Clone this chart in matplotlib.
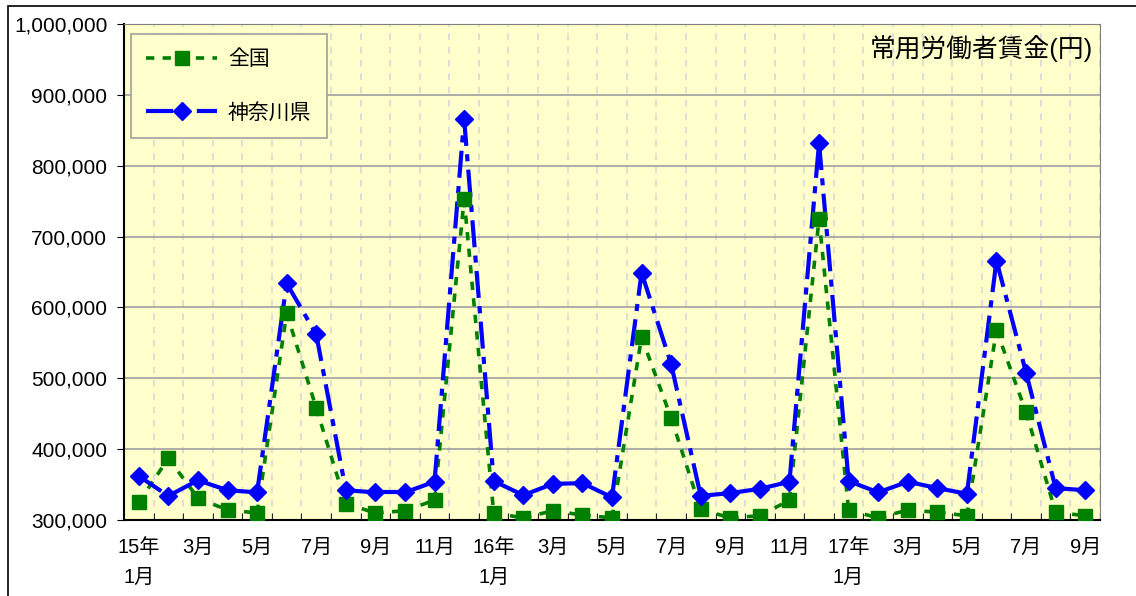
import matplotlib
matplotlib.use("Agg")
import matplotlib.pyplot as plt
import matplotlib.patches as patches
from matplotlib.ticker import FuncFormatter, FixedLocator
import numpy as np

plt.rcParams['font.family'] = ['Liberation Sans', 'Noto Sans CJK JP', 'DejaVu Sans']

# month labels (every other month shown)
months = ['15年\n1月', '2月', '3月', '4月', '5月', '6月', '7月', '8月', '9月', '10月', '11月', '12月',
          '16年\n1月', '2月', '3月', '4月', '5月', '6月', '7月', '8月', '9月', '10月', '11月', '12月',
          '17年\n1月', '2月', '3月', '4月', '5月', '6月', '7月', '8月', '9月']

# 全国
zenkoku = [325000, 387000, 331000, 314000, 310000, 592000, 458000, 323000, 310000, 313000, 328000, 753000,
           310000, 303000, 313000, 307000, 303000, 558000, 444000, 315000, 303000, 306000, 328000, 725000,
           314000, 303000, 314000, 311000, 306000, 568000, 452000, 311000, 306000]

# 神奈川県
kanagawa = [362000, 334000, 356000, 342000, 339000, 634000, 562000, 342000, 339000, 339000, 354000, 866000,
            355000, 335000, 351000, 352000, 332000, 649000, 520000, 334000, 338000, 344000, 354000, 832000,
            355000, 339000, 354000, 345000, 337000, 666000, 508000, 345000, 342000]

x = np.arange(len(months))

green_ls = (0, (2.3, 2.3))
blue_ls = (0, (6.5, 2, 1.7, 2))

fig = plt.figure(figsize=(11.36, 5.96), dpi=100)
ax = fig.add_axes([124/1136, 76/596, 976/1136, 496/596])
ax.set_facecolor('#FFFFCC')

# outer chart border (only left and top visible)
fig.add_artist(patches.Rectangle((8/1136, -0.1), 1.2, 1.1 - 6/596, transform=fig.transFigure,
                                 fill=False, edgecolor='black', linewidth=1.2))

# lines segment by segment (dash pattern restarts at each point, like Excel)
for i in range(len(x) - 1):
    ax.plot(x[i:i+2], zenkoku[i:i+2], color='#008000', linewidth=2.6, linestyle=green_ls, zorder=3)
    ax.plot(x[i:i+2], kanagawa[i:i+2], color='#0000FF', linewidth=3, linestyle=blue_ls, zorder=3)
ax.plot(x, zenkoku, linestyle='none', marker='s', markersize=10, color='#008000', zorder=4)
ax.plot(x, kanagawa, linestyle='none', marker='D', markersize=9, color='#0000FF', zorder=5)

ax.set_xlim(-0.5, len(months) - 0.5)
ax.set_ylim(300000, 1000000)

ax.set_yticks(np.arange(300000, 1000001, 100000))
ax.yaxis.set_major_formatter(FuncFormatter(lambda v, p: f'{int(v):,}'))
ax.tick_params(axis='y', direction='out', length=5, labelsize=15, pad=7)

ax.set_xticks(x[::2])
ax.set_xticklabels(months[::2], linespacing=1.7, va='top')
ax.tick_params(axis='x', which='major', length=0, labelsize=14.5, pad=13)
ax.xaxis.set_minor_locator(FixedLocator(np.arange(-0.5, len(months), 1)))
ax.tick_params(axis='x', which='minor', direction='in', length=5, color='black')

ax.grid(axis='y', color='#A0A0A0', linewidth=1.2, zorder=1)
ax.grid(axis='x', which='minor', color='#D8D8D8', linestyle=(0, (4, 4)), linewidth=1.2, zorder=1)
ax.set_axisbelow(True)

for s in ['top', 'right']:
    ax.spines[s].set_color('#808080')
for s in ['left', 'bottom']:
    ax.spines[s].set_color('black')
    ax.spines[s].set_linewidth(1.5)

h1, = ax.plot([], [], color='#008000', linewidth=2.6, linestyle=green_ls, marker='s', markersize=10)
h2, = ax.plot([], [], color='#0000FF', linewidth=3, linestyle=blue_ls, marker='D', markersize=9)
leg = ax.legend([h1, h2], ['全国', '神奈川県'], loc='upper left', bbox_to_anchor=(0.007, 0.98),
                borderaxespad=0, fontsize=15, handlelength=3.4, labelspacing=1.6, numpoints=1,
                fancybox=False, facecolor='#FFFFCC', edgecolor='#A0A0A0', framealpha=1,
                borderpad=0.75, handletextpad=0.5)
leg.get_frame().set_linewidth(1.2)

ax.text(0.993, 0.95, '常用労働者賃金(円)', transform=ax.transAxes, ha='right', va='center', fontsize=18.5)

fig.savefig('out.png', dpi=100)
